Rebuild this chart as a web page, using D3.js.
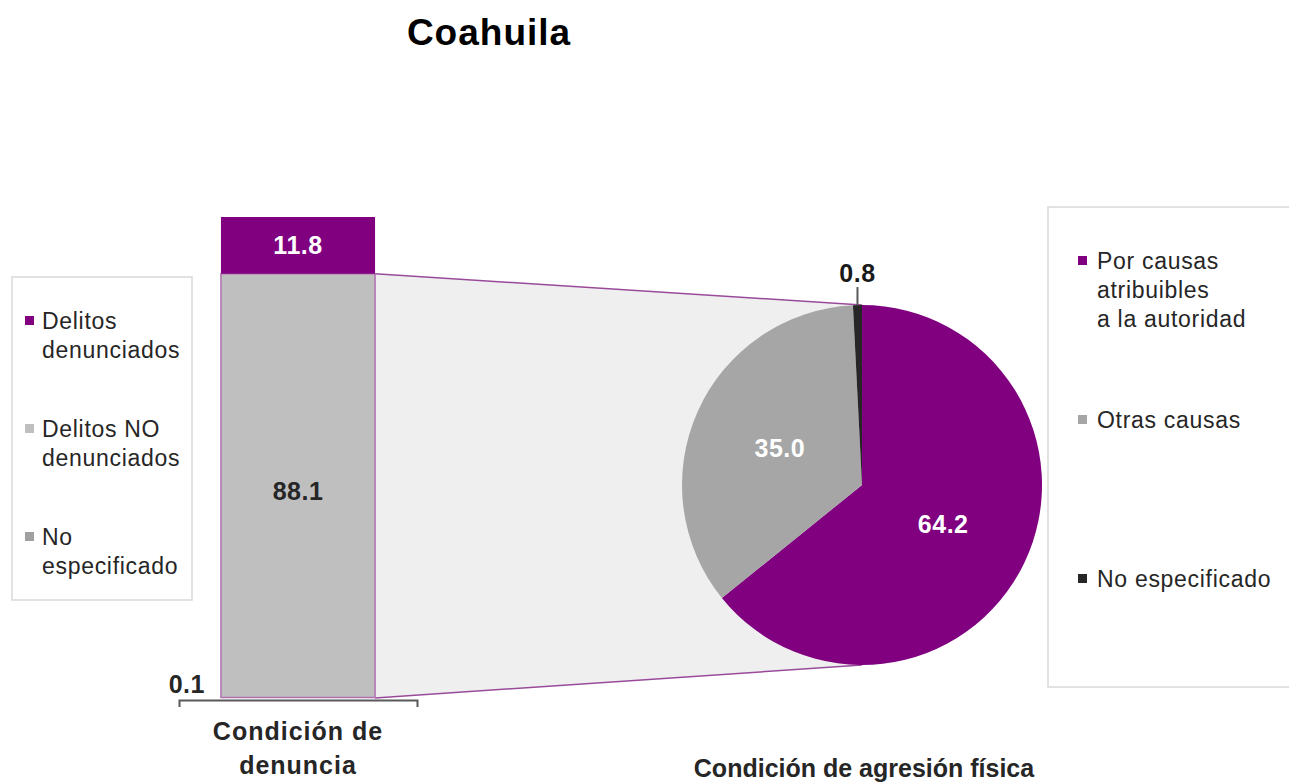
<!DOCTYPE html>
<html>
<head>
<meta charset="utf-8">
<script src="https://cdn.jsdelivr.net/npm/d3@7"></script>
<style>
  body { margin: 0; background: #fff; }
  text { font-family: "Liberation Sans", Arial, sans-serif; }
</style>
</head>
<body>
<div id="chart"></div>
<script>
// bar: condición de denuncia (stacked bottom -> top)
var barGroup = ["Condición de denuncia"]
var barCategories = ["No especificado", "Delitos NO denunciados", "Delitos denunciados"]
var barValues = [0.1, 88.1, 11.8]
var barColors = ["#a0a0a0", "#bfbfbf", "#800080"]

// pie: condición de agresión física
var pieCategories = ["Por causas atribuibles a la autoridad", "Otras causas", "No especificado"]
var pieValues = [64.2, 35.0, 0.8]
var pieColors = ["#800080", "#a6a6a6", "#262626"]

var width = 1289, height = 784

var svg = d3.select("#chart").append("svg")
    .attr("width", width)
    .attr("height", height)

svg.append("text")
    .attr("x", 489).attr("y", 45)
    .attr("text-anchor", "middle")
    .style("font-size", "37px").style("font-weight", "bold")
    .style("letter-spacing", "1px")
    .text("Coahuila")

// scales
var x = d3.scaleBand().domain(barGroup).range([179, 417]).padding(0.214)
var y = d3.scaleLinear().domain([0, 100]).range([698, 217])

var stacked = []
var acc = 0
barValues.forEach(function(v, i) {
    stacked.push({ name: barCategories[i], v: v, y0: acc, y1: acc + v, color: barColors[i] })
    acc += v
})

// pie geometry
var cx = 862, cy = 485, r = 180
var barRight = x(barGroup[0]) + x.bandwidth()
var split = stacked[1].y1

// shaded connector area
svg.append("path")
    .attr("d", "M" + barRight + "," + y(split) + "L" + cx + "," + (cy - r) +
        "L" + cx + "," + (cy + r) + "L" + barRight + "," + y(0) + "Z")
    .attr("fill", "#efefef")

svg.append("line")
    .attr("x1", barRight).attr("y1", y(split))
    .attr("x2", cx).attr("y2", cy - r)
    .attr("stroke", "#9a4a9a").attr("stroke-width", 1.5)
svg.append("line")
    .attr("x1", barRight).attr("y1", y(0))
    .attr("x2", cx).attr("y2", cy + r)
    .attr("stroke", "#9a4a9a").attr("stroke-width", 1.5)

// stacked bar
svg.selectAll("rect.seg")
    .data(stacked)
    .enter()
    .append("rect")
    .attr("class", "seg")
    .attr("x", x(barGroup[0]))
    .attr("y", function(d) { return y(d.y1) })
    .attr("width", x.bandwidth())
    .attr("height", function(d) { return y(d.y0) - y(d.y1) })
    .attr("fill", function(d) { return d.color })
    .attr("stroke", function(d, i) { return i == 1 ? "#b070b0" : "none" })
    .attr("stroke-width", 1.5)

// bar labels
var bx = x(barGroup[0]) + x.bandwidth() / 2
svg.append("text")
    .attr("x", bx).attr("y", (y(stacked[2].y0) + y(stacked[2].y1)) / 2 + 9)
    .attr("text-anchor", "middle").attr("fill", "#fff")
    .style("font-size", "25px").style("font-weight", "bold").style("letter-spacing", "0.5px")
    .text(barValues[2].toFixed(1))
svg.append("text")
    .attr("x", bx).attr("y", (y(stacked[1].y0) + y(stacked[1].y1)) / 2 + 14)
    .attr("text-anchor", "middle").attr("fill", "#262626")
    .style("font-size", "25px").style("font-weight", "bold").style("letter-spacing", "0.5px")
    .text(barValues[1].toFixed(1))
svg.append("text")
    .attr("x", x(barGroup[0]) - 16).attr("y", y(stacked[0].y1) - 5)
    .attr("text-anchor", "end").attr("fill", "#262626")
    .style("font-size", "25px").style("font-weight", "bold").style("letter-spacing", "0.5px")
    .text(barValues[0].toFixed(1))

// axis bracket
var axis = svg.append("g")
    .attr("transform", "translate(0," + (y(0) + 2) + ")")
    .call(d3.axisBottom(x).tickSizeInner(0).tickSizeOuter(7).tickFormat(""))
axis.select(".domain").attr("stroke", "#595959").attr("stroke-width", 2)

var axLabel = svg.append("text")
    .attr("x", bx).attr("y", 740)
    .attr("text-anchor", "middle").attr("fill", "#262626")
    .style("font-size", "25px").style("font-weight", "bold").style("letter-spacing", "1px")
axLabel.append("tspan").attr("x", bx).attr("dy", 0).text("Condición de")
axLabel.append("tspan").attr("x", bx).attr("dy", 34).text("denuncia")

// pie
var pie = d3.pie().sort(null)
var arc = d3.arc().innerRadius(0).outerRadius(r)
var labelArc = d3.arc().innerRadius(r * 0.5).outerRadius(r * 0.5)
var arcs = pie(pieValues)

var pg = svg.append("g").attr("transform", "translate(" + cx + "," + cy + ")")
pg.selectAll("path")
    .data(arcs)
    .enter()
    .append("path")
    .attr("d", arc)
    .attr("fill", function(d, i) { return pieColors[i] })

pg.selectAll("text.lab")
    .data(arcs.slice(0, 2))
    .enter()
    .append("text")
    .attr("class", "lab")
    .attr("transform", function(d) { var c = labelArc.centroid(d); return "translate(" + c[0] + "," + (c[1] + 9) + ")" })
    .attr("text-anchor", "middle").attr("fill", "#fff")
    .style("font-size", "25px").style("font-weight", "bold").style("letter-spacing", "0.5px")
    .text(function(d) { return d.data.toFixed(1) })

// small slice label with leader
var small = arcs[2]
var a = (small.startAngle + small.endAngle) / 2
var px = Math.sin(a) * r, py = -Math.cos(a) * r
pg.append("line")
    .attr("x1", px).attr("y1", py)
    .attr("x2", px).attr("y2", py - 18)
    .attr("stroke", "#595959").attr("stroke-width", 2)
pg.append("text")
    .attr("x", px).attr("y", py - 23)
    .attr("text-anchor", "middle").attr("fill", "#1a1a1a")
    .style("font-size", "25px").style("font-weight", "bold").style("letter-spacing", "0.5px")
    .text(small.data.toFixed(1))

svg.append("text")
    .attr("x", 864).attr("y", 777)
    .attr("text-anchor", "middle").attr("fill", "#262626")
    .style("font-size", "25px").style("font-weight", "bold").style("letter-spacing", "0px")
    .text("Condición de agresión física")

// legends
function legend(box, items) {
    svg.append("rect")
        .attr("x", box.x).attr("y", box.y)
        .attr("width", box.w).attr("height", box.h)
        .attr("fill", "#fff").attr("stroke", "#d9d9d9").attr("stroke-width", 1.5)
    items.forEach(function(it) {
        svg.append("rect")
            .attr("x", box.sx).attr("y", it.y - 13)
            .attr("width", 9).attr("height", 9)
            .attr("fill", it.color)
        var t = svg.append("text")
            .attr("x", box.tx).attr("y", it.y)
            .attr("fill", "#262626")
            .style("font-size", "23px").style("letter-spacing", "0.7px")
        it.lines.forEach(function(l, j) {
            t.append("tspan").attr("x", box.tx).attr("dy", j == 0 ? 0 : 29).text(l)
        })
    })
}

legend({ x: 12, y: 277, w: 180, h: 323, sx: 25, tx: 42 }, [
    { color: barColors[2], y: 329, lines: ["Delitos", "denunciados"] },
    { color: barColors[1], y: 437, lines: ["Delitos NO", "denunciados"] },
    { color: barColors[0], y: 545, lines: ["No", "especificado"] }
])

legend({ x: 1048, y: 207, w: 260, h: 480, sx: 1078, tx: 1097 }, [
    { color: pieColors[0], y: 269, lines: ["Por causas", "atribuibles", "a la autoridad"] },
    { color: pieColors[1], y: 428, lines: ["Otras causas"] },
    { color: pieColors[2], y: 587, lines: ["No especificado"] }
])
</script>
</body>
</html>
